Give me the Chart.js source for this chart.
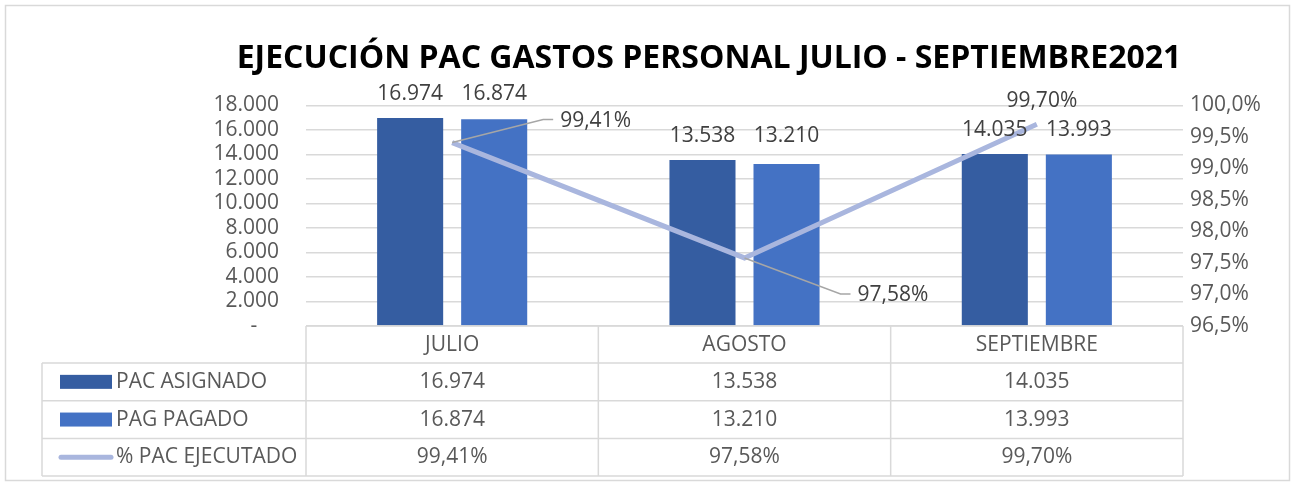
<!DOCTYPE html>
<html>
<head>
<meta charset="utf-8">
<script src="https://cdn.jsdelivr.net/npm/chart.js@4.4.1/dist/chart.umd.min.js"></script>
<style>
  html, body { margin: 0; padding: 0; background: #fff; }
  #wrap { width: 1294px; height: 486px; }
</style>
</head>
<body>
<div id="wrap"><canvas id="chart-1" width="1294" height="486"></canvas></div>
<script>
const categories = ["JULIO", "AGOSTO", "SEPTIEMBRE"];
const pacAsignado = [16974, 13538, 14035];
const pagPagado = [16874, 13210, 13993];
const pacEjecutado = [99.41, 97.58, 99.70];
const seriesNames = ["PAC ASIGNADO", "PAG PAGADO", "% PAC EJECUTADO"];

const darkBlue = "#355DA1";
const midBlue = "#4472C4";
const lineBlue = "#A9B6DE";
const gridColor = "#D9D9D9";
const textColor = "#595959";
const FONT = "'Open Sans', 'Liberation Sans', sans-serif";
const FS = 21;

function fmtNum(v) {
  return String(v).replace(/\B(?=(\d{3})+(?!\d))/g, ".");
}
function fmtPct(v, d) {
  return v.toFixed(d).replace(".", ",") + "%";
}

// label offsets for the line points (excel moved these by hand)
const lineLabelPos = [
  { dx: 108, dy: -22, align: "left", leader: true },
  { dx: 113, dy: 37, align: "left", leader: true },
  { dx: 5, dy: -23, align: "center", leader: false },
];

const frame = {
  id: "frame",
  beforeDraw(chart) {
    const ctx = chart.ctx;
    ctx.save();
    ctx.fillStyle = "#fff";
    ctx.fillRect(0, 0, chart.width, chart.height);
    ctx.strokeStyle = gridColor;
    ctx.lineWidth = 1.5;
    ctx.strokeRect(5.5, 5.5, chart.width - 10, chart.height - 11);
    ctx.restore();
  },
};

const labels = {
  id: "labels",
  afterDatasetsDraw(chart) {
    const ctx = chart.ctx;
    ctx.save();
    ctx.font = FS + "px " + FONT;
    ctx.fillStyle = "#404040";
    ctx.textAlign = "center";
    ctx.textBaseline = "middle";
    const m0 = chart.getDatasetMeta(0);
    const m1 = chart.getDatasetMeta(1);
    categories.forEach((c, i) => {
      const top = Math.min(m0.data[i].y, m1.data[i].y) - 24;
      ctx.fillText(fmtNum(pacAsignado[i]), m0.data[i].x, top);
      ctx.fillText(fmtNum(pagPagado[i]), m1.data[i].x, top);
    });
    const m2 = chart.getDatasetMeta(2);
    m2.data.forEach((p, i) => {
      const o = lineLabelPos[i];
      const lx = p.x + o.dx, ly = p.y + o.dy;
      if (o.leader) {
        ctx.strokeStyle = "#A6A6A6";
        ctx.lineWidth = 1.5;
        ctx.beginPath();
        ctx.moveTo(p.x, p.y);
        ctx.lineTo(lx - 17, ly - 1);
        ctx.lineTo(lx - 7, ly - 1);
        ctx.stroke();
      }
      ctx.textAlign = o.align;
      ctx.fillText(fmtPct(pacEjecutado[i], 2), lx, ly);
    });
    ctx.restore();
  },
};

const dataTable = {
  id: "dataTable",
  afterDraw(chart) {
    const ctx = chart.ctx;
    const a = chart.chartArea;
    const x = chart.scales.x;
    const colW = (a.right - a.left) / categories.length;
    const headTop = a.bottom;
    const headBot = headTop + 37;
    const rowH = 37.7;
    const legLeft = 42;
    const tableBot = headBot + rowH * 3;
    ctx.save();
    ctx.strokeStyle = gridColor;
    ctx.lineWidth = 1.5;
    ctx.beginPath();
    ctx.moveTo(a.left, headTop); ctx.lineTo(a.right, headTop);
    for (let r = 0; r <= 3; r++) {
      const y = headBot + r * rowH;
      ctx.moveTo(legLeft, y); ctx.lineTo(a.right, y);
    }
    for (let c = 0; c <= categories.length; c++) {
      const xx = a.left + c * colW;
      ctx.moveTo(xx, headTop); ctx.lineTo(xx, tableBot);
    }
    ctx.moveTo(legLeft, headBot); ctx.lineTo(legLeft, tableBot);
    ctx.stroke();

    const rows = [
      pacAsignado.map(fmtNum),
      pagPagado.map(fmtNum),
      pacEjecutado.map(v => fmtPct(v, 2)),
    ];
    ctx.font = FS + "px " + FONT;
    ctx.textBaseline = "middle";
    rows.forEach((vals, r) => {
      const cy = headBot + r * rowH + rowH / 2;
      // legend key
      if (r < 2) {
        ctx.fillStyle = r === 0 ? darkBlue : midBlue;
        ctx.fillRect(60, cy - 7, 52, 14);
      } else {
        ctx.strokeStyle = lineBlue;
        ctx.lineWidth = 5;
        ctx.lineCap = "round";
        ctx.beginPath();
        ctx.moveTo(61, cy); ctx.lineTo(111, cy);
        ctx.stroke();
      }
      ctx.fillStyle = textColor;
      ctx.textAlign = "left";
      ctx.fillText(seriesNames[r], 116, cy);
      ctx.textAlign = "center";
      vals.forEach((v, i) => ctx.fillText(v, x.getPixelForValue(i), cy));
    });
    ctx.restore();
  },
};

new Chart(document.getElementById("chart-1"), {
  type: "bar",
  data: {
    labels: categories,
    datasets: [
      {
        label: seriesNames[0],
        data: pacAsignado,
        backgroundColor: darkBlue,
        yAxisID: "y",
        order: 2,
        categoryPercentage: 0.575,
        barPercentage: 0.786,
      },
      {
        label: seriesNames[1],
        data: pagPagado,
        backgroundColor: midBlue,
        yAxisID: "y",
        order: 2,
        categoryPercentage: 0.575,
        barPercentage: 0.786,
      },
      {
        type: "line",
        label: seriesNames[2],
        data: pacEjecutado,
        yAxisID: "y1",
        borderColor: lineBlue,
        borderWidth: 5,
        pointRadius: 0,
        tension: 0,
        order: 1,
      },
    ],
  },
  options: {
    responsive: false,
    animation: false,
    layout: { padding: { left: 124, right: 0, top: 0, bottom: 123 } },
    plugins: {
      legend: { display: false },
      tooltip: { enabled: false },
      title: {
        display: true,
        text: "EJECUCIÓN PAC GASTOS PERSONAL JULIO - SEPTIEMBRE2021",
        color: "#000",
        font: { family: FONT, size: 32, weight: "bold", lineHeight: 1.2 },
        padding: { top: 40, bottom: 27 },
      },
    },
    scales: {
      x: {
        grid: { display: false, drawTicks: false },
        border: { display: false },
        ticks: { color: textColor, font: { family: FONT, size: FS }, padding: 6 },
        afterFit(s) { s.height = 37; },
      },
      y: {
        position: "left",
        min: 0,
        max: 18000,
        grid: { color: gridColor, lineWidth: 1.5, drawTicks: false },
        border: { display: false },
        ticks: {
          stepSize: 2000,
          autoSkip: false,
          color: textColor,
          font: { family: FONT, size: FS },
          padding: 27,
          callback: v => (v === 0 ? "-    " : fmtNum(v)),
        },
        afterFit(s) { s.width = 182; },
      },
      y1: {
        position: "right",
        min: 96.5,
        max: 100,
        grid: { display: false, drawTicks: false },
        border: { display: false },
        ticks: {
          stepSize: 0.5,
          autoSkip: false,
          color: textColor,
          font: { family: FONT, size: FS },
          padding: 7,
          callback: v => fmtPct(v, 1),
        },
        afterFit(s) { s.width = 111; },
      },
    },
  },
  plugins: [frame, labels, dataTable],
});
</script>
</body>
</html>
